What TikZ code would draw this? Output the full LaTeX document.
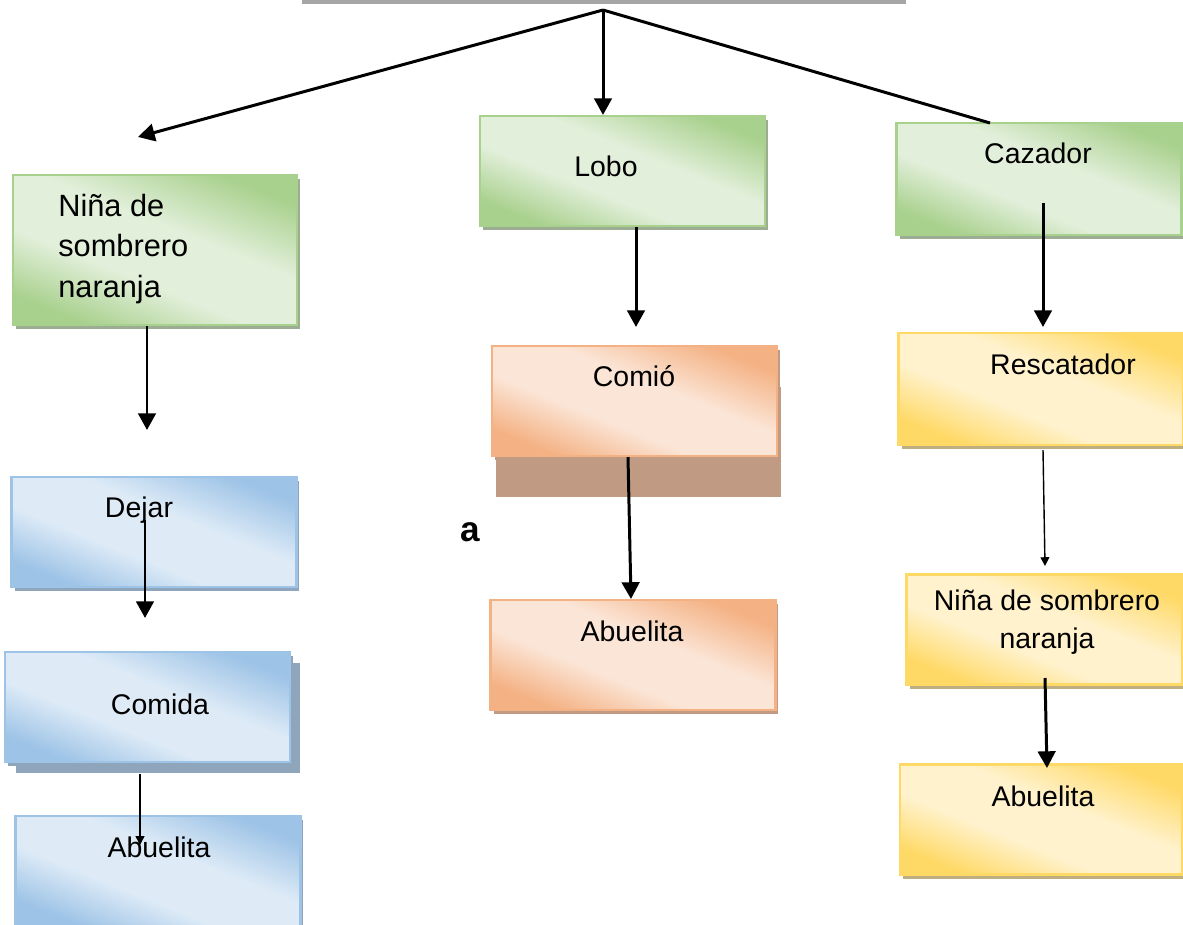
\documentclass[tikz,border=0pt]{standalone}
\usepackage{fontspec}
\setmainfont{Liberation Sans}
\usetikzlibrary{arrows.meta,shadows,positioning}
\definecolor{gdark}{HTML}{A9D18E}
\definecolor{glight}{HTML}{E2EFDA}
\definecolor{gshadow}{HTML}{9CAD93}
\definecolor{odark}{HTML}{F4B183}
\definecolor{olight}{HTML}{FBE5D6}
\definecolor{oshadow}{HTML}{C09A82}
\definecolor{bdark}{HTML}{9DC3E6}
\definecolor{blight}{HTML}{DEEBF7}
\definecolor{bshadow}{HTML}{8FA5BC}
\definecolor{ydark}{HTML}{FFD966}
\definecolor{ylight}{HTML}{FFF2CC}
\definecolor{yshadow}{HTML}{BFAE80}
\definecolor{rootgray}{HTML}{A6A6A6}
% light in the middle, darker towards two corners
\pgfdeclareverticalshading{gshade}{100bp}{color(0bp)=(gdark); color(25bp)=(gdark);
  color(41bp)=(glight); color(57bp)=(glight); color(75bp)=(gdark); color(100bp)=(gdark)}
\pgfdeclareverticalshading{oshade}{100bp}{color(0bp)=(odark); color(25bp)=(odark);
  color(41bp)=(olight); color(57bp)=(olight); color(75bp)=(odark); color(100bp)=(odark)}
\pgfdeclareverticalshading{bshade}{100bp}{color(0bp)=(bdark); color(25bp)=(bdark);
  color(41bp)=(blight); color(57bp)=(blight); color(75bp)=(bdark); color(100bp)=(bdark)}
\pgfdeclareverticalshading{yshade}{100bp}{color(0bp)=(ydark); color(25bp)=(ydark);
  color(41bp)=(ylight); color(57bp)=(ylight); color(75bp)=(ydark); color(100bp)=(ydark)}
\tikzset{
  box/.style     = { rectangle, line width=1.2pt, inner sep=0pt,
                     minimum width=5.7cm, minimum height=2.2cm },
  greenbox/.style = { box, draw=gdark, shading=gshade, shading angle=-22,
                     drop shadow={shadow xshift=0.06cm, shadow yshift=-0.08cm, fill=gshadow, opacity=1} },
  orangebox/.style = { box, draw=odark, shading=oshade, shading angle=-22,
                     drop shadow={shadow xshift=0.06cm, shadow yshift=-0.08cm, fill=oshadow, opacity=1} },
  bluebox/.style = { box, draw=bdark, shading=bshade, shading angle=-22,
                     drop shadow={shadow xshift=0.06cm, shadow yshift=-0.08cm, fill=bshadow, opacity=1} },
  yellowbox/.style = { box, draw=ydark, shading=yshade, shading angle=-22,
                     drop shadow={shadow xshift=0.06cm, shadow yshift=-0.08cm, fill=yshadow, opacity=1} },
  caption/.style = { inner sep=0pt, align=center, font=\fontsize{16.2}{21.5}\selectfont },
  arr/.style     = { -{Triangle[length=9.5pt,width=10pt]}, line width=1.7pt },
  smallarr/.style = { -{Triangle[length=5pt,width=5pt]}, line width=0.8pt },
}
\begin{document}
\begin{tikzpicture}[x=0.02cm, y=-0.02cm]
  \useasboundingbox (0,0) rectangle (1183,924);
  % root (only its lower edge shows)
  \node[fill=rootgray, inner sep=0pt, minimum width=12.08cm, minimum height=0.08cm] (root) at (604,2) {};
  \coordinate (hub) at (603,10);
  % green row
  \node[greenbox, minimum width=5.68cm, minimum height=3cm] (ninaL) at (155,250) {};
  \node[greenbox] (lobo) at (622.5,171) {};
  \node[greenbox, minimum height=2.24cm] (cazador) at (1039,179) {};
  % orange column
  \node[orangebox, drop shadow={shadow xshift=0.08cm, shadow yshift=-0.82cm, fill=oshadow, opacity=1}] (comio) at (634.5,401) {};
  \node[orangebox] (abueM) at (633,655) {};
  % blue column
  \node[bluebox] (dejar) at (154,532) {};
  \node[bluebox, drop shadow={shadow xshift=0.21cm, shadow yshift=-0.21cm, fill=bshadow, opacity=1}] (comida) at (147.5,707) {};
  \node[bluebox] (abueL) at (158,871) {};
  % yellow column
  \node[yellowbox, minimum height=2.24cm] (rescat) at (1041,389) {};
  \node[yellowbox, minimum width=5.52cm] (ninaR) at (1044.5,629.5) {};
  \node[yellowbox, minimum width=5.64cm] (abueR) at (1041,819.5) {};
  % texts
  \node[caption, anchor=west, align=left, font=\fontsize{17.5}{23}\selectfont] (ninaLt) at (58,249) {Niña de\\sombrero\\naranja};
  \node[caption] (lobot) at (606,166) {Lobo};
  \node[caption] (cazadort) at (1038,153) {Cazador};
  \node[caption] (comiot) at (634,376) {Comió};
  \node[caption] (abueMt) at (632,631) {Abuelita};
  \node[caption] (dejart) at (139,510) {Dejar};
  \node[caption] (comidat) at (160,704) {Comida};
  \node[caption] (abueLt) at (159,847) {Abuelita};
  \node[caption] (rescatt) at (1063,364) {Rescatador};
  \node[caption] (ninaRt) at (1047,622) {Niña de sombrero\\naranja};
  \node[caption] (abueRt) at (1043,796) {Abuelita};
  \node[caption, font=\bfseries\fontsize{20}{24}\selectfont] (lettera) at (470,532) {a};
  % free ends
  \coordinate (ninaTip) at (138,137);
  \coordinate (cazIn) at (990,123);
  \coordinate (ninaDown) at (147,430);
  \coordinate (loboDown) at (636,327);
  \coordinate (dejarIn) at (145,520);
  \coordinate (dejarDown) at (145,618);
  \coordinate (comidaDown) at (140,845);
  \coordinate (cazadorIn) at (1043,203);
  \coordinate (cazadorDown) at (1043,327);
  \coordinate (rescatIn) at (1043,450);
  \coordinate (rescatDown) at (1045,566);
  \coordinate (ninaRIn) at (1045,678);
  \coordinate (abueRIn) at (1047,768);
  % connectors
  \draw[arr] (hub) -- (ninaTip);
  \draw[arr] (hub) -- (hub |- lobo.north);
  \draw[line width=1.7pt] (hub) -- (cazIn);
  \draw[arr] (ninaDown |- ninaL.south) -- (ninaDown);
  \draw[arr] (loboDown |- lobo.south) -- (loboDown);
  \draw[arr] ([xshift=-0.13cm]comio.south) -- ([xshift=-0.04cm]abueM.north);
  \draw[arr] (dejarIn) -- (dejarDown);
  \draw[smallarr] ([yshift=-0.21cm]comidaDown |- comida.south) -- (comidaDown);
  \draw[arr] (cazadorIn) -- (cazadorDown);
  \draw[smallarr] (rescatIn) -- (rescatDown);
  \draw[arr] (ninaRIn) -- (abueRIn);
\end{tikzpicture}
\end{document}
